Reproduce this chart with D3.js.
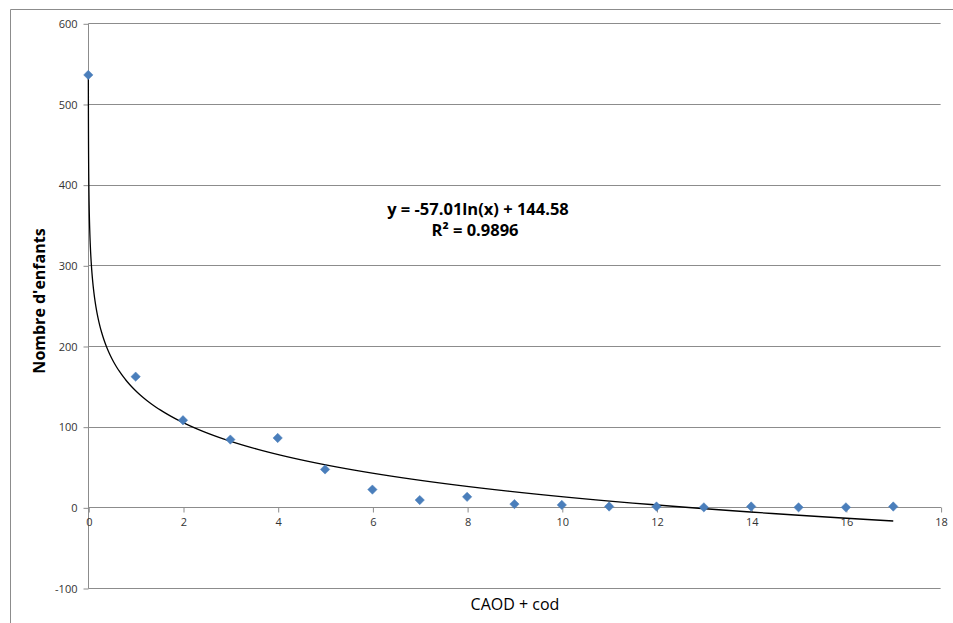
<!DOCTYPE html>
<html><head><meta charset="utf-8">
<script src="https://cdn.jsdelivr.net/npm/d3@7"></script>
<style>
body{margin:0;background:#fff;}
svg{display:block;}
</style></head>
<body>
<svg id="chart" width="953" height="623"></svg>
<script>
const xValues = [0,1,2,3,4,5,6,7,8,9,10,11,12,13,14,15,16,17];
const yValues = [536,162,108,84,86,47,22,9,13,4,3,1,1,0,1,0,0,1];
const xTicks = [0,2,4,6,8,10,12,14,16,18];
const yTicks = [-100,0,100,200,300,400,500,600];
const trendSlope = -57.01, trendIntercept = 144.58;
const equationLines = ["y = -57.01ln(x) + 144.58", "R² = 0.9896"];
const xTitle = "CAOD + cod", yTitle = "Nombre d'enfants";

const svg = d3.select("#chart");
const x = d3.scaleLinear().domain([0,18]).range([88.3,940.6]);
const y = d3.scaleLinear().domain([-100,600]).range([588,23.3]);
const font = "'Open Sans', 'Liberation Sans', sans-serif";

// outer frame
svg.append("path").attr("d","M10.5,623 L10.5,9.5 L953,9.5").attr("fill","none").attr("stroke","#8c8c8c").attr("stroke-width",1);

// gridlines
svg.append("g").selectAll("line").data(yTicks).join("line")
  .attr("x1",x(0)).attr("x2",x(18))
  .attr("y1",d=>Math.round(y(d))+0.5).attr("y2",d=>Math.round(y(d))+0.5)
  .attr("stroke","#8c8c8c").attr("stroke-width",1);

// y axis
const yAxis = d3.axisLeft(y).tickValues(yTicks).tickSize(5).tickPadding(6).tickFormat(d=>String(d));
const gy = svg.append("g").attr("transform",`translate(${Math.round(x(0))+0.5},0.5)`).call(yAxis);
gy.select(".domain").attr("stroke","#8c8c8c").attr("d",`M-0,${y(600)}V${y(-100)}`);
gy.selectAll(".tick line").attr("stroke","#8c8c8c");
gy.selectAll("text").attr("font-family",font).attr("font-size",11).attr("fill","#333");

// x axis at y=0
const xAxis = d3.axisBottom(x).tickValues(xTicks).tickSize(5).tickPadding(6).tickFormat(d=>String(d));
const gx = svg.append("g").attr("transform",`translate(0.5,${Math.round(y(0))+0.5})`).call(xAxis);
gx.select(".domain").attr("stroke","#8c8c8c").attr("d",`M${x(0)},0H${x(18)}`);
gx.selectAll(".tick line").attr("stroke","#8c8c8c");
gx.selectAll("text").attr("font-family",font).attr("font-size",11).attr("fill","#333");

// trendline
const tStart = Math.exp((trendIntercept-540)/(-trendSlope));
const tPts = d3.range(0,301).map(i=>tStart*Math.pow(17/tStart,i/300));
const line = d3.line().x(d=>x(d)).y(d=>y(trendSlope*Math.log(d)+trendIntercept)).curve(d3.curveLinear);
svg.append("path").datum(tPts).attr("d",line).attr("fill","none").attr("stroke","#000").attr("stroke-width",1.3);

// points
const pts = xValues.map((v,i)=>({x:v,y:yValues[i]}));
svg.append("g").selectAll("path").data(pts).join("path")
  .attr("d",d3.symbol().type(d3.symbolDiamond2).size(56))
  .attr("transform",d=>`translate(${x(d.x)},${y(d.y)})`)
  .attr("fill","#4a7ebb").attr("stroke","#4a7ebb").attr("stroke-width",0.5);

// equation
svg.append("text").attr("x",478).attr("y",215).attr("text-anchor","middle")
  .attr("font-family",font).attr("font-weight","bold").attr("font-size",16.5).attr("fill","#000")
  .text(equationLines[0]);
svg.append("text").attr("x",475).attr("y",236).attr("text-anchor","middle")
  .attr("font-family",font).attr("font-weight","bold").attr("font-size",16.5).attr("fill","#000")
  .text(equationLines[1]);

// axis titles
svg.append("text").attr("x",515).attr("y",610).attr("text-anchor","middle")
  .attr("font-family",font).attr("font-size",16).attr("fill","#000").text(xTitle);
svg.append("text").attr("transform","translate(45,301) rotate(-90)").attr("text-anchor","middle")
  .attr("font-family",font).attr("font-weight","bold").attr("font-size",16).attr("fill","#000").text(yTitle);
</script>
</body></html>
